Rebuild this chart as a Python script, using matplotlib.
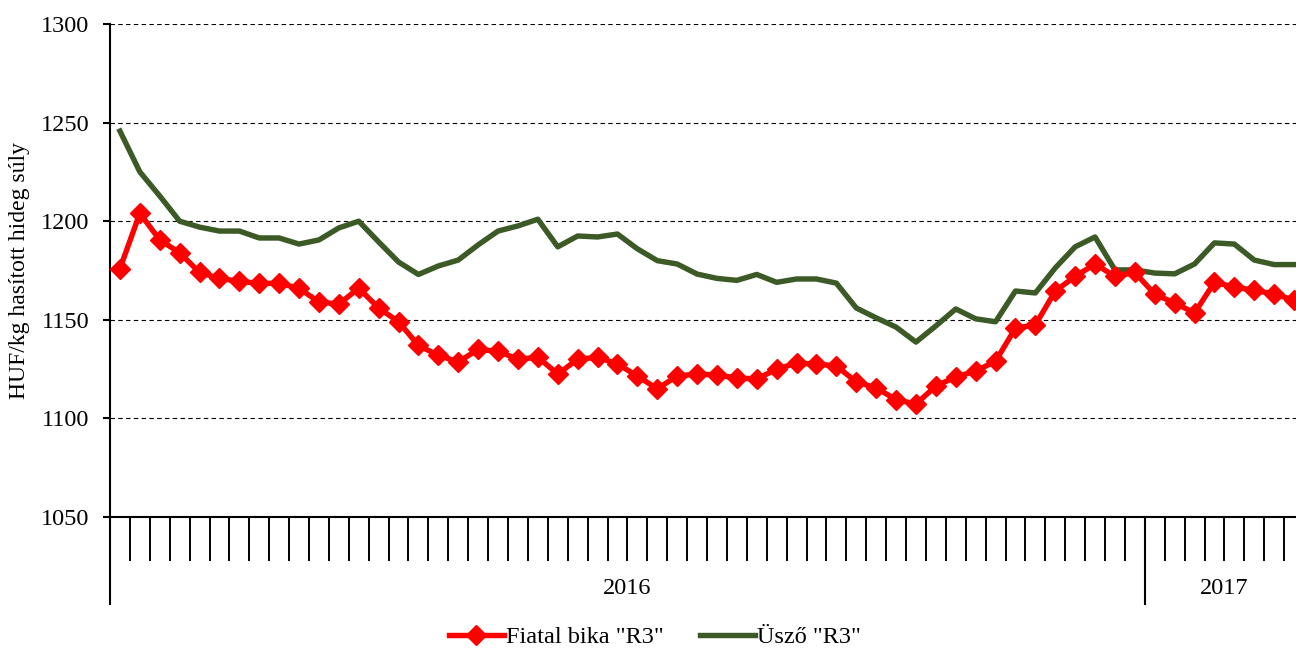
import matplotlib
matplotlib.use('Agg')
import matplotlib.pyplot as plt
import matplotlib.transforms as mtransforms
import numpy as np

plt.rcParams['font.family'] = ['Liberation Serif', 'DejaVu Serif']

# Heti árak, 2016. 1. hét - 2017. 8. hét (HUF/kg hasított hideg súly)
bika = [1176, 1204, 1190.5, 1184, 1174, 1171, 1169.5, 1168.5, 1168.5, 1166,
        1159, 1158, 1166, 1156, 1149, 1137, 1132, 1128.6, 1135, 1134,
        1130, 1131, 1122.5, 1130, 1131, 1127.6, 1121.5, 1115, 1121.5, 1122.5,
        1122, 1120.5, 1120, 1125, 1128, 1127.6, 1126.6, 1118.5, 1115.5, 1109.5,
        1107.3, 1116.4, 1121, 1124, 1129, 1145.8, 1147.4, 1164.6, 1172, 1178.3,
        1172, 1174, 1163, 1158.5, 1153.5, 1169, 1166.6, 1165, 1163, 1160]
uszo = [1245.7, 1225, 1212.8, 1200, 1197, 1195, 1195, 1191.5, 1191.5, 1188.4,
        1190.5, 1196.6, 1200, 1189.5, 1179.3, 1173, 1177.3, 1180.3, 1188, 1195,
        1197.6, 1201, 1187, 1192.5, 1192, 1193.5, 1186, 1180, 1178.3, 1173.2,
        1171, 1170, 1173, 1169, 1170.7, 1170.7, 1168.6, 1156, 1151, 1146.3,
        1138.7, 1146.9, 1155.5, 1150.5, 1149, 1164.6, 1163.6, 1176.3, 1187, 1192,
        1175.3, 1175.3, 1173.7, 1173.3, 1178.3, 1189, 1188.4, 1180.3, 1178, 1178]
evek = ['2016', '2017']
hetek_szama = [52, 8]

x = np.arange(len(bika))

fig = plt.figure(figsize=(12.96, 6.51), dpi=100)
# a diagram jobb széle kilóg a képből (mint az eredetin)
ax = fig.add_axes([110/1296, 1-517/651, 1194/1296, 493/651])

l_uszo, = ax.plot(x, uszo, color='#3B5A26', lw=3.9, label='Üsző "R3"', zorder=3)
l_bika, = ax.plot(x, bika, color='#FF0000', lw=3.9, marker='D', ms=10.5,
                  label='Fiatal bika "R3"', zorder=4)

ax.set_xlim(-0.5, len(bika) - 0.5)
ax.set_ylim(1050, 1300)
ax.set_yticks(np.arange(1050, 1301, 50))
ax.yaxis.grid(True, linestyle=(0, (4, 3)), color='black', lw=0.8)
ax.set_axisbelow(True)

for s in ['top', 'right']:
    ax.spines[s].set_visible(False)
ax.spines['left'].set_linewidth(1.5)
ax.spines['bottom'].set_linewidth(1.5)

ax.set_xticks(np.arange(0.5, len(bika) - 0.5, 1))
ax.set_xticklabels([])
ax.tick_params(axis='x', direction='out', length=32, width=1.4)
ax.tick_params(axis='y', direction='out', length=5, width=1.5, labelsize=17.5, pad=10)

# évek elválasztása és feliratai
trans = mtransforms.blended_transform_factory(ax.transData, ax.transAxes)
hatar = np.concatenate([[0], np.cumsum(hetek_szama)]) - 0.5
for h in hatar:
    ax.plot([h, h], [0, -87/493], color='black', lw=1.5, transform=trans, clip_on=False)
for i, ev in enumerate(evek):
    kozep = (hatar[i] + hatar[i + 1]) / 2
    ax.text(kozep, -71/493, ev, transform=trans, ha='center', va='center', fontsize=17.5)

ax.set_ylabel('HUF/kg hasított hideg súly', fontsize=17)
ax.yaxis.set_label_coords(-80/1194, 0.5)

fig.legend(handles=[l_bika, l_uszo], loc='center', bbox_to_anchor=(655/1296, 1-637/651),
           ncol=2, frameon=False, fontsize=17.5, handlelength=2.25, handletextpad=0.1,
           columnspacing=1.5, borderaxespad=0)

fig.savefig('out.png', dpi=100)
